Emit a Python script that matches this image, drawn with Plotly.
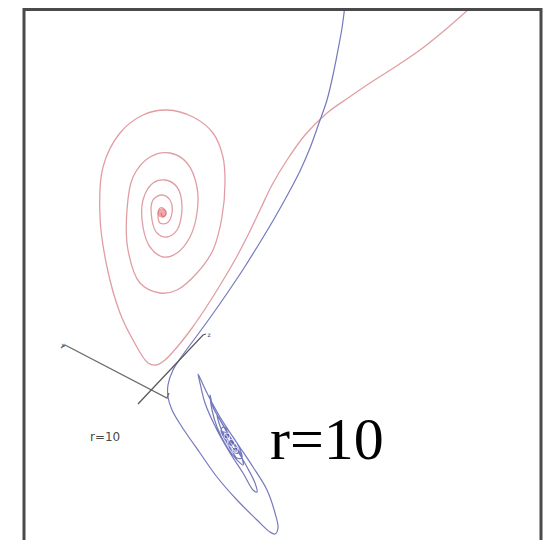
import plotly.graph_objects as go

# trajectory, in picture coordinates (x right, y down)
red_x = [470, 445, 420, 395, 370, 348, 327, 305, 287, 272, 260, 248, 236, 222, 207, 192, 178, 165, 156, 148,
         133, 120, 107, 100, 103, 120, 143, 167, 193, 213, 223, 225, 222, 213, 197, 177, 160,
         140, 128, 127, 133, 150, 170, 187, 197, 197, 190, 177, 163,
         150, 143, 143, 153, 165, 177, 182, 177, 167,
         157, 152, 153, 162, 170, 172, 167, 160, 158, 160, 164, 166, 163, 161]
red_y = [8, 30, 50, 67, 83, 98, 113, 135, 160, 185, 210, 235, 258, 282, 306, 328, 346, 360, 365, 363,
         340, 313, 267, 217, 167, 133, 115, 110, 117, 133, 157, 183, 217, 250, 273, 290, 293,
         283, 250, 210, 177, 157, 153, 163, 187, 213, 237, 253, 257,
         247, 227, 200, 183, 180, 187, 207, 230, 237,
         233, 220, 200, 195, 200, 213, 223, 223, 215, 208, 209, 214, 217, 213]

blue_x = [345, 342, 338, 333, 327, 319, 310, 300, 288, 274, 259, 244, 228, 212, 196, 182, 173, 168, 168, 172, 182,
          200, 217, 237, 257, 270, 275, 278, 275, 267, 253, 237, 220, 207, 200, 198,
          200, 205, 217, 230, 243, 253, 257, 255, 247, 233, 220, 213, 210,
          212, 217, 227, 237, 243, 241, 232, 222, 217,
          219, 224, 231, 237, 242, 239, 231, 224, 221, 226, 233, 238, 234, 227, 223, 228, 234, 236, 230]
blue_y = [5, 28, 50, 75, 100, 123, 148, 171, 194, 219, 244, 268, 292, 315, 337, 356, 370, 385, 397, 410, 427,
          453, 477, 500, 520, 532, 534, 528, 513, 490, 467, 443, 417, 393, 378, 374,
          383, 403, 430, 453, 473, 490, 492, 483, 467, 443, 420, 407, 395,
          410, 427, 447, 460, 465, 455, 440, 423, 415,
          423, 436, 449, 458, 458, 447, 434, 427, 430, 441, 452, 453, 444, 434, 432, 440, 449, 448, 440]

# the two drawn axes and their end marks
axis_a_x = [61, 65, 167, 169]
axis_a_y = [348, 345, 398, 393]
axis_b_x = [138, 203, 206]
axis_b_y = [404, 335, 334]
axis_labels = ["x", "z"]
label_x = [63, 209]
label_y = [345, 335]

fig = go.Figure()

fig.add_trace(go.Scatter(x=red_x, y=red_y, mode="lines",
                         line=dict(color="#e09ea3", width=1.3, shape="spline", smoothing=1.0),
                         hoverinfo="skip"))
fig.add_trace(go.Scatter(x=blue_x, y=blue_y, mode="lines",
                         line=dict(color="#7479bd", width=1.2, shape="spline", smoothing=1.0),
                         hoverinfo="skip"))

# dense centres of the two spirals
fig.add_trace(go.Scatter(x=[162], y=[213], mode="markers",
                         marker=dict(size=9, color="rgba(232,80,90,0.5)"), hoverinfo="skip"))
fig.add_trace(go.Scatter(x=[227, 231, 235], y=[436, 443, 450], mode="markers",
                         marker=dict(size=[6, 7, 6], color="rgba(40,40,170,0.45)"), hoverinfo="skip"))

fig.add_trace(go.Scatter(x=axis_a_x, y=axis_a_y, mode="lines",
                         line=dict(color="#6e6e6e", width=1.3), hoverinfo="skip"))
fig.add_trace(go.Scatter(x=axis_b_x, y=axis_b_y, mode="lines",
                         line=dict(color="#5a5a5a", width=1.3), hoverinfo="skip"))
fig.add_trace(go.Scatter(x=label_x, y=label_y, mode="text", text=axis_labels,
                         textfont=dict(size=6, color="#444", family="DejaVu Sans"),
                         hoverinfo="skip"))

# frame (top edge kept just inside the plot area so it is not clipped)
fig.add_shape(type="rect", x0=24, y0=9.5, x1=541, y1=560,
              line=dict(color="#4a4a4a", width=3))

fig.add_annotation(x=105, y=437, text="r=10", showarrow=False,
                   font=dict(size=12, color="#4a4a4a", family="DejaVu Sans"))
fig.add_annotation(x=327, y=439, text="r=10", showarrow=False,
                   font=dict(size=60, color="black", family="Liberation Serif"))

# page body has an 8px margin, so the ranges start at 8 to keep picture coordinates
fig.update_layout(width=555, height=540, margin=dict(l=0, r=0, t=0, b=0),
                  showlegend=False, paper_bgcolor="white", plot_bgcolor="white")
fig.update_xaxes(range=[8, 563], visible=False)
fig.update_yaxes(range=[548, 8], visible=False)

fig.write_html("out.html")
